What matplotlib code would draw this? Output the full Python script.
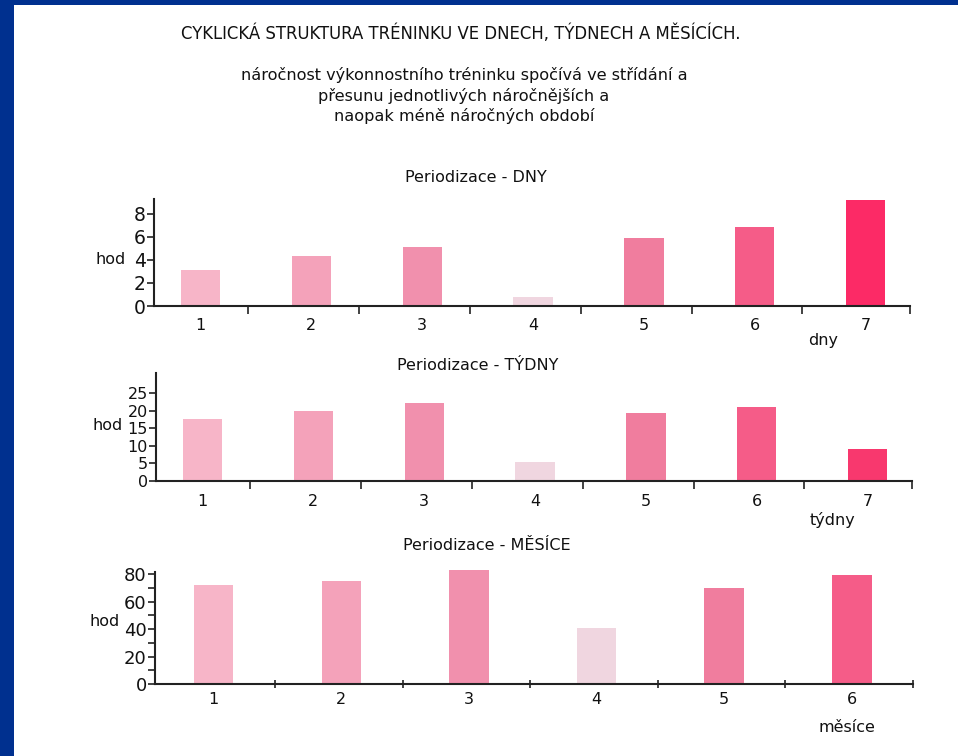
import matplotlib
matplotlib.use("Agg")
import matplotlib.pyplot as plt
from matplotlib.patches import Rectangle
from matplotlib.ticker import FixedLocator, MultipleLocator

W, H = 958, 756
FONT = ["DejaVu Sans"]
plt.rcParams['font.family'] = FONT

main_title = "CYKLICKÁ STRUKTURA TRÉNINKU VE DNECH, TÝDNECH A MĚSÍCÍCH."
subtitle = ["náročnost výkonnostního tréninku spočívá ve střídání a",
            "přesunu jednotlivých náročnějších a",
            "naopak méně náročných období"]

days = ["1", "2", "3", "4", "5", "6", "7"]
days_hours = [3.1, 4.35, 5.1, 0.8, 5.9, 6.9, 9.2]
weeks = ["1", "2", "3", "4", "5", "6", "7"]
weeks_hours = [17.7, 20.0, 22.3, 5.4, 19.4, 21.1, 9.1]
months = ["1", "2", "3", "4", "5", "6"]
months_hours = [72, 75, 83, 41, 70, 79]

colors7 = ["#F7B5C8", "#F4A2BA", "#F190AD", "#F0D6E0", "#F07D9E", "#F55C88", "#FC2A66"]
colors7b = ["#F7B5C8", "#F4A2BA", "#F190AD", "#F0D6E0", "#F07D9E", "#F55C88", "#F8386E"]
colors6 = ["#F7B5C8", "#F4A2BA", "#F190AD", "#F0D6E0", "#F07D9E", "#F55C88"]

fig = plt.figure(figsize=(W / 100, H / 100), dpi=100)
fig.patch.set_facecolor("#00308F")
fig.patches.append(Rectangle((14 / W, 0), 1 - 14 / W, 1 - 5 / H, transform=fig.transFigure,
                             facecolor="white", edgecolor="none", zorder=-10))


def fx(x):
    return x / W


def fy(y):
    return 1 - y / H


def rect(x0, x1, ytop, ybot):
    return [fx(x0), fy(ybot), (x1 - x0) / W, (ybot - ytop) / H]


fig.text(fx(461), fy(34), main_title, ha="center", va="center", fontsize=11.9, color="#111111")
for i, line in enumerate(subtitle):
    fig.text(fx(464), fy(75 + 20.5 * i), line, ha="center", va="center", fontsize=11.6, color="#111111")


def panel(box, cats, vals, cols, ymax, yticks, yminor, xl, bounds, width, title, title_xy,
          unit, unit_xy, hod_xy, ytick_fs, tick_dir, xpad):
    ax = fig.add_axes(rect(*box))
    ax.set_facecolor("none")
    ax.set_zorder(5)
    x = list(range(len(cats)))
    ax.bar(x, vals, width=width, color=cols, edgecolor="none", zorder=2, clip_on=False)
    ax.set_xlim(*xl)
    ax.set_ylim(0, ymax)
    for s in ["top", "right"]:
        ax.spines[s].set_visible(False)
    for s in ["left", "bottom"]:
        ax.spines[s].set_linewidth(1.5)
        ax.spines[s].set_color("#222222")
        ax.spines[s].set_zorder(3)
    ax.set_xticks(x)
    ax.set_xticklabels(cats, fontsize=11.5, color="#111111")
    ax.tick_params(axis="x", which="major", length=0, pad=xpad)
    ax.xaxis.set_minor_locator(FixedLocator(bounds))
    ax.tick_params(axis="x", which="minor", length=6, width=1.2, direction=tick_dir, color="#222222")
    ax.set_yticks(yticks)
    ax.set_yticklabels([str(t) for t in yticks], fontsize=ytick_fs, color="#111111")
    ax.tick_params(axis="y", which="major", length=5, width=1.2, pad=1, color="#222222")
    if yminor:
        ax.yaxis.set_minor_locator(MultipleLocator(yminor))
        ax.tick_params(axis="y", which="minor", length=5, width=1.2, color="#222222")
    fig.text(fx(title_xy[0]), fy(title_xy[1]), title, ha="center", va="center", fontsize=11.5, color="#111111")
    fig.text(fx(unit_xy[0]), fy(unit_xy[1]), unit, ha="center", va="center", fontsize=11.5, color="#111111")
    fig.text(fx(hod_xy[0]), fy(hod_xy[1]), "hod", ha="center", va="center", fontsize=11.5, color="#111111")
    return ax


panel((154, 910, 199, 306), days, days_hours, colors7, 9.3, [0, 2, 4, 6, 8], None,
      (-0.42, 6.4), [i + 0.43 for i in range(6)] + [6.4], 0.355,
      "Periodizace - DNY", (476, 178), "dny", (823, 341), (111, 260), 13.5, "out", 9)

panel((156, 912, 373, 481), weeks, weeks_hours, colors7b, 30.7, [0, 5, 10, 15, 20, 25], None,
      (-0.42, 6.4), [i + 0.43 for i in range(6)] + [6.4], 0.355,
      "Periodizace - TÝDNY", (478, 365), "týdny", (833, 520), (108, 426), 11.5, "out", 9)

panel((155, 913, 572, 684), months, months_hours, colors6, 81.5, [0, 20, 40, 60, 80], 10,
      (-0.46, 5.48), [i + 0.48 for i in range(5)] + [5.48], 0.31,
      "Periodizace - MĚSÍCE", (487, 546), "měsíce", (847, 728), (105, 622), 13, "inout", 6)

fig.savefig("out.png", dpi=100, facecolor=fig.get_facecolor())
